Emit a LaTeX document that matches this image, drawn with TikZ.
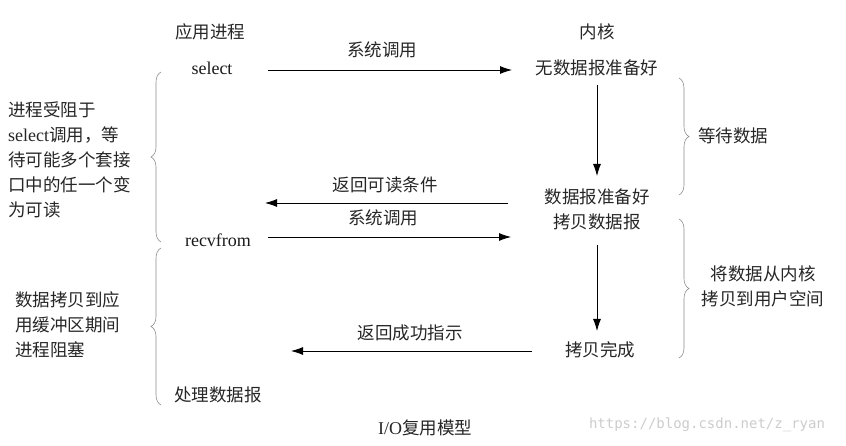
\documentclass[tikz,border=0pt]{standalone}
\usepackage{fontspec}
\setmainfont{Noto Sans CJK SC}
\newfontfamily\lat{Liberation Serif}
\newfontfamily\wmfont{DejaVu Sans Mono}
\usetikzlibrary{arrows.meta,decorations.pathreplacing}
\begin{document}
\begin{tikzpicture}[x=1pt,y=-1pt,
  txt/.style={inner sep=0pt, text=black!85, font=\fontsize{17.5}{25}\selectfont},
  lab/.style={inner sep=0pt, text=black!90, font=\lat\fontsize{18}{22}\selectfont},
  arr/.style={draw=black, line width=0.8pt, -{Latex[length=12pt,width=8pt]}},
  brc/.style={draw=black!45, line width=0.6pt, decorate, decoration={brace, amplitude=10pt}}]
\useasboundingbox (0,0) rectangle (846,446);
% headers
\node[txt] (app) at (210,32) {应用进程};
\node[txt] (kern) at (597,32) {内核};
% process side
\node[lab] (sel) at (212,68) {select};
\node[lab] (recv) at (218,240) {recvfrom};
\node[txt] (proc) at (218,395) {处理数据报};
% kernel side
\node[txt] (nodata) at (597,68) {无数据报准备好};
\node[txt] (ready) at (597,197) {数据报准备好};
\node[txt] (copy) at (597,222) {拷贝数据报};
\node[txt] (done) at (600,350) {拷贝完成};
% arrow labels
\node[txt] (l1) at (382,50) {系统调用};
\node[txt] (l2) at (385,185) {返回可读条件};
\node[txt] (l3) at (383,218) {系统调用};
\node[txt] (l4) at (410,333) {返回成功指示};
% arrow end points
\coordinate (a1s) at (268,70);  \coordinate (a1e) at (512,70);
\coordinate (a2s) at (508,203); \coordinate (a2e) at (265,203);
\coordinate (a3s) at (268,237); \coordinate (a3e) at (511,237);
\coordinate (a4s) at (532,351); \coordinate (a4e) at (291,351);
\coordinate (v1s) at (597,85);  \coordinate (v1e) at (597,176);
\coordinate (v2s) at (597,245); \coordinate (v2e) at (597,331);
\draw[arr] (a1s) -- (a1e);
\draw[arr] (a2s) -- (a2e);
\draw[arr] (a3s) -- (a3e);
\draw[arr] (a4s) -- (a4e);
\draw[arr] (v1s) -- (v1e);
\draw[arr] (v2s) -- (v2e);
% braces
\coordinate (b1a) at (161,242); \coordinate (b1b) at (161,72);
\coordinate (b2a) at (161,405); \coordinate (b2b) at (161,248);
\coordinate (b3a) at (679,78);  \coordinate (b3b) at (679,195);
\coordinate (b4a) at (679,219); \coordinate (b4b) at (679,358);
\draw[brc] (b1a) -- (b1b);
\draw[brc] (b2a) -- (b2b);
\draw[brc] (b3a) -- (b3b);
\draw[brc] (b4a) -- (b4b);
% side notes
\node[txt, anchor=west, align=left] (n1) at (8,160)
  {进程受阻于\\{\lat\fontsize{18}{25}\selectfont select}调用，等\\待可能多个套接\\口中的任一个变\\为可读};
\node[txt, anchor=west, align=left] (n2) at (15,325)
  {数据拷贝到应\\用缓冲区期间\\进程阻塞};
\node[txt, anchor=west] (n3) at (698,136) {等待数据};
\node[txt, align=center] (n4) at (763,286) {将数据从内核\\拷贝到用户空间};
% caption
\node[txt] (cap) at (425,428) {{\lat\fontsize{18}{22}\selectfont I/O}复用模型};
\node[inner sep=0pt, text=black!20, font=\wmfont\fontsize{14}{18}\selectfont] (wm) at (707,425) {https://blog.csdn.net/z\_ryan};
\end{tikzpicture}
\end{document}
